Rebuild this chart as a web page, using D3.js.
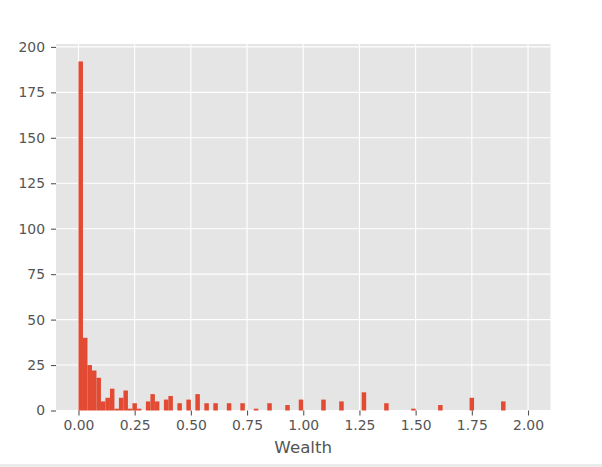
<!DOCTYPE html>
<html>
<head>
<meta charset="utf-8">
<script src="https://cdn.jsdelivr.net/npm/d3@7"></script>
<style>
  body { margin: 0; background: #fff; }
  svg { display: block; font-family: "DejaVu Sans", sans-serif; }
</style>
</head>
<body>
<div id="chart"></div>
<script>
// histogram of wealth, 100 bins of width 0.02 over [0, 2]; only non-empty bins listed
const binWidth = 0.02;
const binLeft = [0.00, 0.02, 0.04, 0.06, 0.08, 0.10, 0.12, 0.14, 0.16, 0.18,
                 0.20, 0.22, 0.24, 0.26, 0.30, 0.32, 0.34, 0.38, 0.40, 0.44,
                 0.48, 0.52, 0.56, 0.60, 0.66, 0.72, 0.78, 0.84, 0.92, 0.98,
                 1.08, 1.16, 1.26, 1.36, 1.48, 1.60, 1.74, 1.88];
const binCount = [192, 40, 25, 22, 18, 5, 7, 12, 1, 7,
                  11, 1, 4, 1, 5, 9, 5, 6, 8, 4,
                  6, 9, 4, 4, 4, 4, 1, 4, 3, 6,
                  6, 5, 10, 4, 1, 3, 7, 5];
const xTicks = [0, 0.25, 0.5, 0.75, 1.0, 1.25, 1.5, 1.75, 2.0];
const yTicks = [0, 25, 50, 75, 100, 125, 150, 175, 200];
const xLabel = "Wealth";

const width = 602, height = 467;
const margin = { top: 44, right: 51.5, bottom: 56.5, left: 56 };
const innerWidth = width - margin.left - margin.right;
const innerHeight = height - margin.top - margin.bottom;

const svg = d3.select("#chart").append("svg")
  .attr("width", width)
  .attr("height", height);

svg.append("rect").attr("width", width).attr("height", height).attr("fill", "#fff");
svg.append("rect") // grey strip along the bottom edge
  .attr("x", 0).attr("y", 464).attr("width", width).attr("height", 3)
  .attr("fill", "#ececec");

const g = svg.append("g").attr("transform", `translate(${margin.left},${margin.top})`);

const bins = binLeft.map((x0, i) => ({ x0: x0, x1: x0 + binWidth, count: binCount[i] }));

// matplotlib style 5% margins around the data limits
const xMin = 0, xMax = 2.0;
const xPad = (xMax - xMin) * 0.05;
const x = d3.scaleLinear().domain([xMin - xPad, xMax + xPad]).range([0, innerWidth]);
const y = d3.scaleLinear().domain([0, d3.max(binCount) * 1.05]).range([innerHeight, 0]);

g.append("rect")
  .attr("width", innerWidth)
  .attr("height", innerHeight)
  .attr("fill", "#e5e5e5");

// grid
g.selectAll(".xgrid").data(xTicks).enter().append("line")
  .attr("x1", d => x(d)).attr("x2", d => x(d))
  .attr("y1", 0).attr("y2", innerHeight)
  .attr("stroke", "#fff").attr("stroke-width", 1.1);
g.selectAll(".ygrid").data(yTicks).enter().append("line")
  .attr("x1", 0).attr("x2", innerWidth)
  .attr("y1", d => y(d)).attr("y2", d => y(d))
  .attr("stroke", "#fff").attr("stroke-width", 1.1);

// bars
g.selectAll(".bar").data(bins).enter().append("rect")
  .attr("x", d => x(d.x0))
  .attr("width", d => x(d.x1) - x(d.x0))
  .attr("y", d => y(d.count))
  .attr("height", d => y(0) - y(d.count))
  .attr("fill", "#e24a33");

// axes
const xAxis = g.append("g")
  .attr("transform", `translate(0,${innerHeight})`)
  .call(d3.axisBottom(x).tickValues(xTicks).tickFormat(d3.format(".2f")).tickSizeInner(5).tickSizeOuter(0).tickPadding(5));
const yAxis = g.append("g")
  .call(d3.axisLeft(y).tickValues(yTicks).tickFormat(d3.format("d")).tickSizeInner(5).tickSizeOuter(0).tickPadding(6));

[xAxis, yAxis].forEach(a => {
  a.select(".domain").remove();
  a.selectAll(".tick line").attr("stroke", "#555").attr("stroke-width", 1.1);
  a.selectAll(".tick text")
    .attr("fill", "#555")
    .style("font-size", "13.9px")
    .style("font-family", "'DejaVu Sans', sans-serif");
});

g.append("text")
  .attr("x", innerWidth / 2)
  .attr("y", innerHeight + 42.5)
  .attr("text-anchor", "middle")
  .attr("fill", "#555")
  .style("font-size", "16.7px")
  .text(xLabel);
</script>
</body>
</html>
